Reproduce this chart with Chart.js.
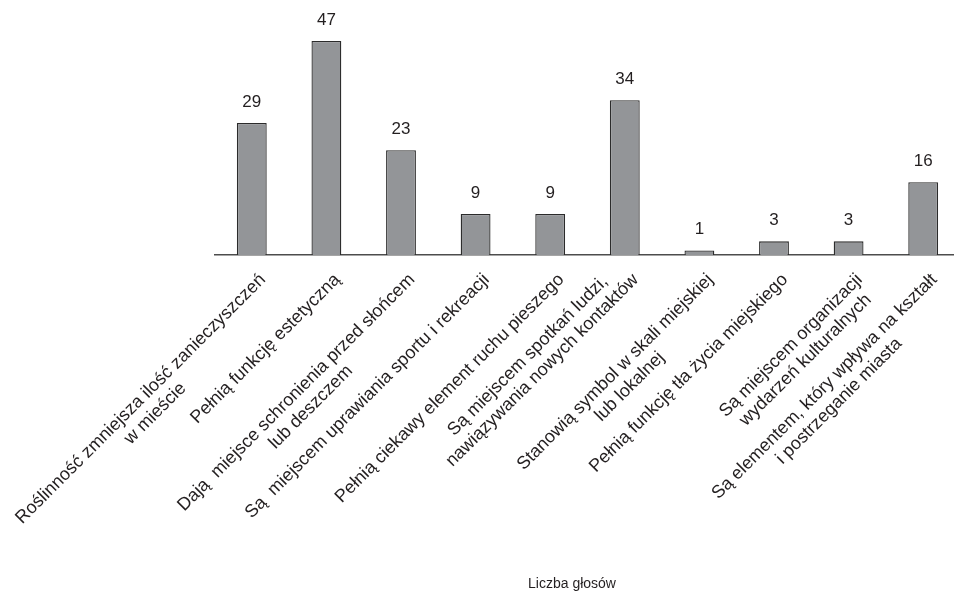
<!DOCTYPE html>
<html lang="pl">
<head>
<meta charset="utf-8">
<title>Liczba głosów</title>
<script src="https://cdn.jsdelivr.net/npm/chart.js@4.4.1/dist/chart.umd.min.js"></script>
<style>
  html, body { margin: 0; padding: 0; background: #fff; overflow: hidden; }
  #wrap { position: relative; width: 962px; height: 592px; }
</style>
</head>
<body>
<div id="wrap"><canvas id="glosyChart"></canvas></div>
<script>
// kategorie odpowiedzi (każda linia osobno)
const kategorie = [
    ["Roślinność zmniejsza ilość zanieczyszczeń", "w mieście"],
    ["Pełnią funkcję estetyczną"],
    ["Dają  miejsce schronienia przed słońcem", "lub deszczem"],
    ["Są  miejscem uprawiania sportu i rekreacji"],
    ["Pełnią ciekawy element ruchu pieszego"],
    ["Są miejscem spotkań ludzi,", "nawiązywania nowych kontaktów"],
    ["Stanowią symbol w skali miejskiej", "lub lokalnej"],
    ["Pełnią funkcję tła życia miejskiego"],
    ["Są miejscem organizacji", "wydarzeń kulturalnych"],
    ["Są elementem, który wpływa na kształt", "i postrzeganie miasta"]
];
const glosy = [29, 47, 23, 9, 9, 34, 1, 3, 3, 16];
const tytulOsi = "Liczba głosów";

const FONT = '"Liberation Sans", Arial, Helvetica, sans-serif';
const KOLOR_TEKSTU = "#231f20";

// liczby nad słupkami
const etykietyWartosci = {
    id: "etykietyWartosci",
    afterDatasetsDraw(chart) {
        const ctx = chart.ctx;
        const meta = chart.getDatasetMeta(0);
        ctx.save();
        ctx.font = "17px " + FONT;
        ctx.fillStyle = KOLOR_TEKSTU;
        ctx.textAlign = "center";
        ctx.textBaseline = "alphabetic";
        meta.data.forEach((bar, i) => {
            ctx.fillText(String(glosy[i]), bar.x, bar.y - 16);
        });
        ctx.restore();
    }
};

// obrócone podpisy kategorii, linie wyśrodkowane względem najdłuższej
const etykietyKategorii = {
    id: "etykietyKategorii",
    afterDraw(chart) {
        const ctx = chart.ctx;
        const osX = chart.scales.x;
        const dol = chart.chartArea.bottom;
        ctx.save();
        ctx.font = "18px " + FONT;
        ctx.fillStyle = KOLOR_TEKSTU;
        ctx.textAlign = "center";
        ctx.textBaseline = "middle";
        kategorie.forEach((linie, i) => {
            const szer = linie.map((l) => ctx.measureText(l).width);
            const maxSzer = Math.max(...szer);
            const k = szer.indexOf(maxSzer);
            ctx.save();
            ctx.translate(osX.getPixelForValue(i) + 11, dol + 22);
            ctx.rotate(-Math.PI / 4);
            linie.forEach((l, j) => ctx.fillText(l, -maxSzer / 2, (j - k) * 20.5));
            ctx.restore();
        });

        // tytuł osi
        ctx.font = "14px " + FONT;
        ctx.textBaseline = "alphabetic";
        ctx.fillText(tytulOsi, 572, 588);
        ctx.restore();
    }
};

const ctx = document.getElementById("glosyChart").getContext("2d");
new Chart(ctx, {
    type: "bar",
    data: {
        labels: kategorie,
        datasets: [{
            data: glosy,
            backgroundColor: "#939598",
            borderColor: "#2b2b2b",
            borderWidth: 1.3,
            barPercentage: 0.4,
            categoryPercentage: 1
        }]
    },
    options: {
        responsive: true,
        maintainAspectRatio: false,
        animation: false,
        layout: { padding: { left: 214.5, right: 1.5, top: 0, bottom: 337 } },
        scales: {
            x: {
                grid: { display: false, drawTicks: false },
                ticks: { display: false },
                border: { display: true, color: "#4d4d4d", width: 1.5 }
            },
            y: {
                display: false,
                min: 0,
                max: 56
            }
        },
        plugins: {
            legend: { display: false },
            tooltip: { enabled: false }
        }
    },
    plugins: [etykietyWartosci, etykietyKategorii]
});
</script>
</body>
</html>
